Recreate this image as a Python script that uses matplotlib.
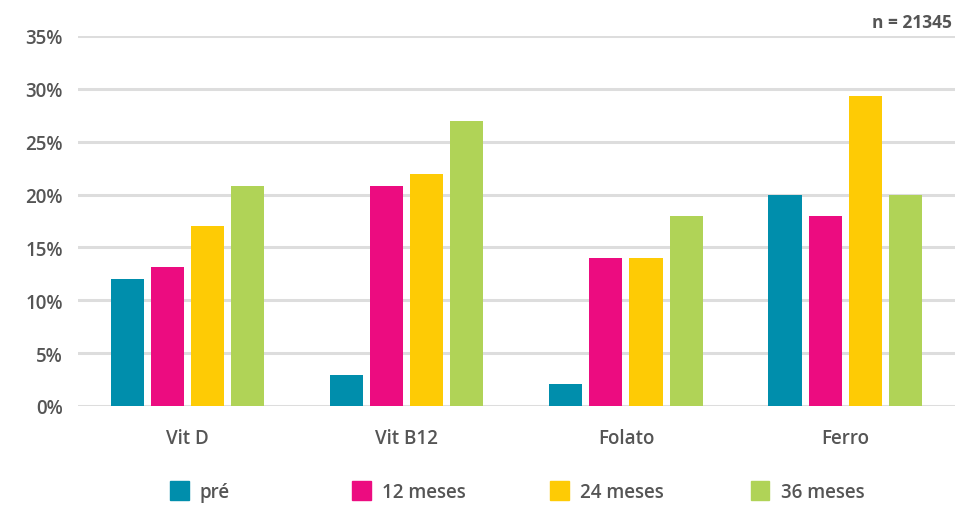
import numpy as np
import matplotlib
matplotlib.use('Agg')
from matplotlib import pyplot as plt
from matplotlib.patches import Patch

# dados
categorias = ['Vit D', 'Vit B12', 'Folato', 'Ferro']
series = ['pré', '12 meses', '24 meses', '36 meses']
pre = [12.0, 2.9, 2.1, 20.0]
m12 = [13.1, 20.8, 14.0, 18.0]
m24 = [17.0, 21.9, 14.0, 29.3]
m36 = [20.8, 27.0, 18.0, 20.0]
yticks = [0, 5, 10, 15, 20, 25, 30, 35]

cores = ['#008EAC', '#EC0C80', '#FECB05', '#B0D357']
cinza = '#555555'

plt.rcParams['font.family'] = ['Open Sans', 'DejaVu Sans']

fig = plt.figure(figsize=(9.55, 5.06), dpi=100)
ax = fig.add_axes([0.0817, 0.1957, 0.918, 0.7312])

x = np.arange(len(categorias))
larg = 0.151
passo = 0.183
for i, vals in enumerate([pre, m12, m24, m36]):
    ax.bar(x + (i - 1.5) * passo, vals, width=larg, color=cores[i], zorder=3)

ax.set_xlim(-0.5, len(categorias) - 0.5)
ax.set_ylim(0, 35)
ax.set_yticks(yticks)
ax.set_yticklabels([f'{v}%' for v in yticks])
ax.set_xticks(x)
ax.set_xticklabels(categorias)
ax.tick_params(axis='both', length=0, labelsize=13.5, colors=cinza)
ax.tick_params(axis='y', pad=11)
ax.tick_params(axis='x', pad=16)
for lab in ax.get_xticklabels() + ax.get_yticklabels():
    lab.set_fontweight('semibold')

ax.grid(axis='y', color='#DDDDDD', linewidth=2.2, zorder=0)
for s in ax.spines.values():
    s.set_visible(False)

fig.text(0.997, 0.955, 'n = 21345', ha='right', va='center',
         fontsize=12.5, fontweight='bold', color=cinza)

# legenda: uma entrada por posicao
leg_x = [0.178, 0.369, 0.576, 0.786]
for i in range(len(series)):
    lg = fig.legend([Patch(color=cores[i])], [series[i]], loc='center left',
                    bbox_to_anchor=(leg_x[i], 0.027), frameon=False,
                    handlelength=1.0, handleheight=1.2, handletextpad=0.6,
                    borderaxespad=0, borderpad=0,
                    prop={'size': 13.5, 'weight': 'semibold'}, labelcolor=cinza)

fig.savefig('out.png', dpi=100)
